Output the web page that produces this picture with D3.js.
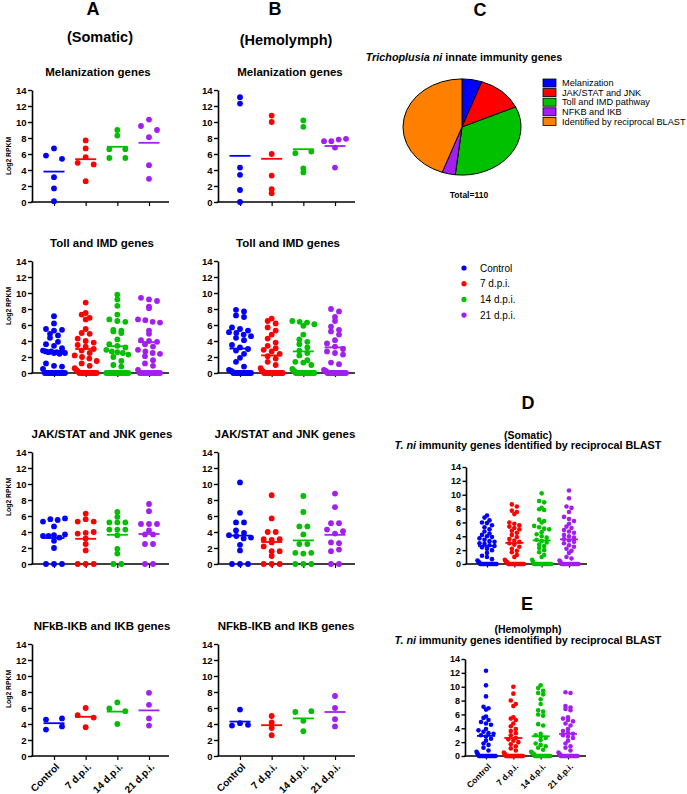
<!DOCTYPE html>
<html><head><meta charset="utf-8">
<script src="https://cdn.jsdelivr.net/npm/d3@7"></script>
<style>body{margin:0;background:#fff;} svg{display:block;font-family:"Liberation Sans",Arial,sans-serif;}</style>
</head><body><svg id="c" width="687" height="794"></svg>
<script>
// ---------- DATA ----------
const groups = ["Control", "7 d.p.i.", "14 d.p.i.", "21 d.p.i."];
const groupColors = ["#0000ff", "#ff0000", "#00c000", "#a21ff0"];
const yTicks = [0, 2, 4, 6, 8, 10, 12, 14];

const melanA = [
  [5.8, 6.7, 5.4, 3.1, 1.7, 0.1],
  [7.7, 6.7, 5.6, 4.9, 4.7, 2.6],
  [9.0, 8.3, 6.6, 6.6, 5.5, 5.5],
  [10.3, 9.5, 9.0, 8.1, 4.6, 2.9]
];
const melanAMeans = [3.8, 5.35, 6.9, 7.4];

const melanB = [
  [13.1, 12.3, 4.3, 3.4, 1.5, 0.0],
  [10.8, 10.0, 6.0, 3.3, 1.6, 1.1],
  [10.2, 9.4, 6.1, 6.3, 3.7, 4.2],
  [7.6, 7.6, 7.8, 7.9, 6.8, 4.3]
];
const melanBMeans = [5.77, 5.4, 6.6, 7.0];

const tollA = [
  [7.1, 6.2, 5.5, 5.3, 5.4, 4.9, 4.7, 4.4, 3.9, 3.6, 3.4, 3.1, 2.8, 2.7, 2.6, 2.7, 2.5, 2.6, 2.4, 2.7, 2.5, 1.2, 0.9, 0.8, 0.5, 0, 0, 0, 0, 0, 0, 0, 0, 0, 0, 0, 0],
  [8.8, 7.5, 7.3, 6.9, 6.7, 5.5, 5.0, 4.9, 4.3, 4.0, 3.8, 3.5, 3.3, 3.0, 2.8, 2.5, 2.2, 2.0, 1.8, 1.5, 1.2, 0.9, 0.6, 0.4, 0.2, 0, 0, 0, 0, 0, 0, 0, 0, 0, 0, 0, 0],
  [9.8, 9.2, 8.4, 7.3, 6.7, 6.5, 6.4, 5.4, 5.3, 5.2, 5.0, 4.2, 3.6, 3.4, 3.2, 2.9, 2.7, 2.6, 2.5, 2.3, 2.0, 1.5, 1.0, 0.8, 0, 0, 0, 0, 0, 0, 0, 0, 0, 0, 0, 0, 0],
  [9.4, 9.2, 9.0, 8.3, 8.1, 6.7, 6.6, 6.4, 6.3, 5.3, 4.9, 4.1, 4.0, 3.9, 3.6, 3.3, 2.9, 2.7, 2.5, 2.4, 2.1, 1.6, 1.2, 0.9, 0.4, 0, 0, 0, 0, 0, 0, 0, 0, 0, 0, 0, 0]
];
const tollAMeans = [2.75, 3.0, 3.35, 3.85];

const tollB = [
  [7.9, 7.7, 7.2, 7.0, 5.7, 5.5, 5.3, 5.1, 5.0, 4.8, 4.6, 4.4, 4.1, 3.5, 3.2, 3.0, 2.8, 2.4, 1.9, 1.4, 0.8, 0.4, 0.3, 0.2, 0, 0, 0, 0, 0, 0, 0, 0, 0, 0, 0, 0, 0],
  [6.8, 6.5, 6.2, 5.7, 5.3, 4.8, 4.3, 3.8, 3.4, 3.1, 2.9, 2.7, 2.4, 2.1, 1.8, 1.4, 1.0, 0.6, 0.3, 0.2, 0, 0, 0, 0, 0, 0, 0, 0, 0, 0, 0, 0, 0, 0, 0, 0, 0],
  [6.5, 6.4, 6.3, 6.1, 5.9, 4.8, 4.2, 3.9, 3.6, 3.2, 2.8, 2.5, 2.2, 1.6, 1.4, 1.3, 1.0, 0.5, 0.3, 0.2, 0, 0, 0, 0, 0, 0, 0, 0, 0, 0, 0, 0, 0, 0, 0, 0, 0],
  [8.0, 7.7, 7.0, 6.5, 5.8, 5.4, 5.2, 4.8, 4.1, 3.7, 3.3, 3.0, 2.7, 2.5, 2.3, 1.3, 1.1, 0.4, 0.3, 0.2, 0, 0, 0, 0, 0, 0, 0, 0, 0, 0, 0, 0, 0, 0, 0, 0, 0]
];
const tollBMeans = [3.05, 2.2, 2.7, 3.2];

const jakA = [
  [5.3, 5.6, 5.5, 5.7, 4.7, 3.5, 3.5, 3.6, 3.3, 3.7, 2.9, 2.0, 0, 0, 0],
  [6.3, 5.3, 5.6, 5.3, 3.8, 3.9, 4.0, 3.2, 2.5, 1.7, 0, 0, 0],
  [6.5, 5.9, 5.2, 5.2, 5.2, 4.3, 4.3, 4.3, 3.6, 1.9, 1.3, 0, 0],
  [7.5, 6.6, 5.0, 5.0, 5.0, 4.2, 3.7, 3.7, 2.5, 2.5, 0, 0]
];
const jakAMeans = [3.25, 3.15, 3.65, 3.75];

const jakB = [
  [10.2, 6.4, 5.2, 5.2, 4.2, 3.9, 3.6, 3.5, 3.2, 3.3, 2.4, 1.7, 0, 0, 0],
  [8.6, 5.7, 4.0, 4.0, 3.1, 3.0, 3.1, 2.7, 2.2, 1.6, 1.6, 1.0, 0, 0, 0],
  [8.5, 6.5, 4.7, 4.7, 3.7, 2.5, 2.5, 1.4, 1.3, 1.4, 0, 0, 0],
  [8.8, 7.1, 5.1, 5.1, 4.3, 3.8, 4.1, 2.7, 2.6, 1.6, 1.8, 0, 0]
];
const jakBMeans = [3.55, 2.75, 2.95, 3.65];

const nfkbA = [
  [4.55, 4.7, 3.3, 3.7],
  [5.1, 6.0, 4.8, 3.6],
  [5.95, 6.7, 5.6, 4.0],
  [7.9, 6.4, 4.7, 3.8]
];
const nfkbAMeans = [4.1, 4.9, 5.55, 5.7];

const nfkbB = [
  [5.8, 3.8, 4.1, 3.9],
  [5.0, 4.2, 3.5, 2.6],
  [5.5, 5.6, 4.4, 3.1],
  [7.5, 6.0, 4.6, 3.7]
];
const nfkbBMeans = [4.3, 3.85, 4.7, 5.5];

const blastSomatic = [
  [7.0, 6.7, 6.3, 6.0, 5.9, 5.6, 5.3, 5.0, 4.7, 4.4, 4.2, 4.0, 3.9, 3.7, 3.5, 3.3, 3.2, 3.0, 2.9, 2.7, 2.6, 2.4, 2.2, 2.0, 1.6, 1.2, 1.0, 0.7, 0.5, 0.3, 0.2, 0, 0, 0, 0, 0, 0, 0, 0, 0, 0, 0, 0, 0, 0, 0, 0, 0, 0],
  [8.6, 8.3, 7.7, 7.5, 7.2, 6.0, 5.8, 5.6, 5.4, 5.2, 5.0, 4.8, 4.5, 4.2, 3.9, 3.6, 3.4, 3.2, 3.0, 2.8, 2.5, 2.2, 1.9, 1.7, 1.3, 1.0, 0.6, 0.4, 0.3, 0.2, 0, 0, 0, 0, 0, 0, 0, 0, 0, 0, 0, 0, 0, 0, 0, 0, 0, 0, 0],
  [10.2, 9.1, 8.9, 8.1, 7.9, 7.8, 6.4, 6.2, 6.0, 5.5, 5.3, 5.1, 5.0, 4.6, 4.3, 4.0, 3.8, 3.5, 3.3, 3.1, 2.8, 2.6, 2.3, 2.0, 1.7, 1.3, 1.0, 0.6, 0.3, 0, 0, 0, 0, 0, 0, 0, 0, 0, 0, 0, 0, 0, 0, 0, 0, 0, 0, 0, 0],
  [10.6, 9.5, 8.3, 8.1, 7.5, 6.8, 6.5, 6.2, 5.8, 5.4, 5.2, 4.9, 4.7, 4.5, 4.2, 4.0, 3.8, 3.6, 3.4, 3.2, 3.0, 2.7, 2.5, 2.2, 1.9, 1.6, 1.0, 0.8, 0.5, 0.3, 0, 0, 0, 0, 0, 0, 0, 0, 0, 0, 0, 0, 0, 0, 0, 0, 0, 0, 0]
];
const blastSomaticMeans = [2.6, 3.05, 3.4, 3.55];

const blastHemo = [
  [12.3, 10.2, 8.6, 7.1, 6.9, 6.7, 5.7, 5.5, 5.2, 4.9, 4.7, 4.5, 3.9, 3.7, 3.5, 3.3, 3.2, 3.0, 2.8, 2.5, 2.2, 1.8, 1.6, 1.2, 0.8, 0.6, 0.4, 0.2, 0, 0, 0, 0, 0, 0, 0, 0, 0, 0, 0, 0, 0, 0, 0, 0, 0, 0, 0, 0, 0],
  [10.0, 9.0, 8.0, 7.5, 7.2, 5.6, 5.4, 5.2, 4.7, 4.3, 3.9, 3.6, 3.3, 3.0, 2.6, 2.4, 2.2, 2.0, 1.7, 1.4, 1.1, 0.8, 0.5, 0.3, 0.2, 0, 0, 0, 0, 0, 0, 0, 0, 0, 0, 0, 0, 0, 0, 0, 0, 0, 0, 0, 0, 0, 0, 0, 0],
  [10.2, 9.8, 9.4, 9.1, 8.9, 8.2, 7.5, 6.6, 6.4, 6.0, 5.8, 4.6, 4.4, 3.2, 3.0, 2.8, 2.6, 2.3, 1.8, 1.6, 1.4, 1.2, 0.9, 0.6, 0.5, 0.4, 0.3, 0.2, 0, 0, 0, 0, 0, 0, 0, 0, 0, 0, 0, 0, 0, 0, 0, 0, 0, 0, 0, 0, 0],
  [9.2, 9.1, 7.2, 7.0, 6.8, 6.6, 5.6, 5.4, 5.2, 5.0, 4.7, 4.4, 3.9, 3.6, 3.4, 3.2, 3.0, 2.8, 2.6, 2.2, 1.8, 1.4, 1.2, 0.8, 0.5, 0.3, 0.2, 0, 0, 0, 0, 0, 0, 0, 0, 0, 0, 0, 0, 0, 0, 0, 0, 0, 0, 0, 0, 0, 0]
];
const blastHemoMeans = [2.9, 2.6, 2.85, 3.2];

const pieLabels = ["Melanization", "JAK/STAT and JNK", "Toll and IMD pathway", "NFKB and IKB", "Identified by reciprocal BLAST"];
const pieCounts = [6, 14, 37, 4, 49];
const pieColors = ["#0000ff", "#ff0000", "#00c000", "#a21ff0", "#ff8000"];

// ---------- LAYOUT ----------
const svg = d3.select("#c");
const FONT = '"Liberation Sans", Arial, sans-serif';

const mainLayout = {h: 112, c0: 22, c1: 117, xEnd: 137, r: 2.9, bin: 0.75, W: 11, pairStep: 16, step: 8, half: 10.5, fs: 9.5, tick: 4};
const smallLayout = {h: 97, c0: 21, c1: 103, xEnd: 121, r: 2.3, bin: 0.62, W: 9.5, pairStep: 10, step: 5, half: 9, fs: 9, tick: 3.5};

const panels = [
  {data: melanA, means: melanAMeans, x0: 32, y0: 202, title: "Melanization genes", tx: 98, ty: 72, ylab: 156},
  {data: melanB, means: melanBMeans, x0: 218, y0: 202, title: "Melanization genes", tx: 290, ty: 72},
  {data: tollA, means: tollAMeans, x0: 32, y0: 373, title: "Toll and IMD genes", tx: 102, ty: 243, ylab: 306},
  {data: tollB, means: tollBMeans, x0: 218, y0: 373, title: "Toll and IMD genes", tx: 288, ty: 243},
  {data: jakA, means: jakAMeans, x0: 32, y0: 564, title: "JAK/STAT and JNK genes", tx: 102, ty: 434, ylab: 497},
  {data: jakB, means: jakBMeans, x0: 218, y0: 564, title: "JAK/STAT and JNK genes", tx: 285, ty: 434},
  {data: nfkbA, means: nfkbAMeans, x0: 32, y0: 756, title: "NFkB-IKB and IKB genes", tx: 102, ty: 626, ylab: 689, xlabels: true},
  {data: nfkbB, means: nfkbBMeans, x0: 218, y0: 756, title: "NFkB-IKB and IKB genes", tx: 286, ty: 626, xlabels: true}
].map(p => Object.assign({}, mainLayout, p));

const smallPanels = [
  {data: blastSomatic, means: blastSomaticMeans, x0: 466, y0: 564, title1: "(Somatic)", t1y: 435, t2y: 445.5, tx: 528},
  {data: blastHemo, means: blastHemoMeans, x0: 465, y0: 756, title1: "(Hemolymph)", t1y: 629, t2y: 640, tx: 528, xlabels: true, xfs: 8.5}
].map(p => Object.assign({}, smallLayout, p));

function swarmOffsets(values, L) {
  const items = values.map((v, i) => ({v, i, bin: Math.floor(v / L.bin + 1e-9)}));
  const bins = d3.group(items, d => d.bin);
  const maxN = d3.max(Array.from(bins.values()), b => b.length);
  const colStep = maxN <= 2 ? L.pairStep : L.step;
  const off = new Array(values.length).fill(0);
  for (const b of bins.values()) {
    const n = b.length;
    if (n < 2) continue;
    const s = Math.min(colStep, 2 * L.W / (n - 1));
    b.forEach((d, k) => { off[d.i] = (k - (n - 1) / 2) * s; });
  }
  return off;
}

function drawAxes(g, p, x, y) {
  const ya = g.append("g").attr("transform", `translate(${p.x0},0)`)
    .call(d3.axisLeft(y).tickValues(yTicks).tickSize(p.tick).tickSizeOuter(0).tickPadding(1.5));
  ya.select(".domain").attr("stroke", "#000").attr("stroke-width", 1.6);
  ya.selectAll(".tick line").attr("stroke", "#000").attr("stroke-width", 1.4);
  ya.selectAll(".tick text").attr("font-size", p.fs).attr("font-weight", "bold").attr("fill", "#000").attr("font-family", FONT);

  const xa = g.append("g").attr("transform", `translate(0,${p.y0})`)
    .call(d3.axisBottom(x).tickSize(p.tick).tickSizeOuter(0));
  xa.select(".domain").remove();
  xa.selectAll(".tick line").attr("stroke", "#000").attr("stroke-width", 1.2);
  if (p.xlabels) {
    xa.selectAll(".tick text").attr("font-size", p.xfs || 10).attr("font-weight", "bold").attr("fill", "#000")
      .attr("font-family", FONT).attr("text-anchor", "end").attr("x", 0).attr("y", 0).attr("dy", "0.35em")
      .attr("transform", "translate(3,9) rotate(-45)");
  } else {
    xa.selectAll(".tick text").remove();
  }
  g.append("line").attr("x1", p.x0 - 0.8).attr("x2", p.x0 + p.xEnd).attr("y1", p.y0).attr("y2", p.y0)
    .attr("stroke", "#000").attr("stroke-width", 1.6);
}

function drawPoints(g, p, x, y) {
  p.data.forEach((vals, gi) => {
    const off = swarmOffsets(vals, p);
    const cx = x(groups[gi]);
    g.append("g").selectAll("circle").data(vals).join("circle")
      .attr("cx", (d, i) => cx + off[i]).attr("cy", d => y(d)).attr("r", p.r)
      .attr("fill", groupColors[gi]);
    g.append("line").attr("x1", cx - p.half).attr("x2", cx + p.half)
      .attr("y1", y(p.means[gi])).attr("y2", y(p.means[gi]))
      .attr("stroke", groupColors[gi]).attr("stroke-width", 1.8);
  });
}

function makeScales(p) {
  const y = d3.scaleLinear().domain([0, 14]).range([p.y0, p.y0 - p.h]);
  const x = d3.scalePoint().domain(groups).range([p.x0 + p.c0, p.x0 + p.c1]);
  return {x, y};
}

panels.forEach(p => {
  const g = svg.append("g");
  const {x, y} = makeScales(p);
  drawAxes(g, p, x, y);
  drawPoints(g, p, x, y);
  g.append("text").attr("x", p.tx).attr("y", p.ty).attr("dy", "0.35em").attr("text-anchor", "middle")
    .attr("font-size", 11.5).attr("font-weight", "bold").attr("font-family", FONT).text(p.title);
  if (p.ylab) {
    g.append("text").attr("transform", `translate(9,${p.ylab}) rotate(-90)`).attr("dy", "0.35em")
      .attr("text-anchor", "middle").attr("font-size", 6.8).attr("font-weight", "bold").attr("font-family", FONT)
      .text("Log2 RPKM");
  }
});

smallPanels.forEach(p => {
  const g = svg.append("g");
  const {x, y} = makeScales(p);
  drawAxes(g, p, x, y);
  drawPoints(g, p, x, y);
  g.append("text").attr("x", p.tx).attr("y", p.t1y).attr("dy", "0.35em").attr("text-anchor", "middle")
    .attr("font-size", 10.5).attr("font-weight", "bold").attr("font-family", FONT).text(p.title1);
  const t2 = g.append("text").attr("x", p.tx).attr("y", p.t2y).attr("dy", "0.35em").attr("text-anchor", "middle")
    .attr("font-size", 10.8).attr("font-weight", "bold").attr("font-family", FONT);
  t2.append("tspan").attr("font-style", "italic").text("T. ni");
  t2.append("tspan").text(" immunity genes identified by reciprocal BLAST");
});

// Panel letters & headers
const letters = [["A", 93, 9], ["B", 275, 9], ["C", 480, 10], ["D", 528, 403], ["E", 527, 604]];
svg.selectAll("text.letter").data(letters).join("text").attr("class", "letter")
  .attr("x", d => d[1]).attr("y", d => d[2]).attr("dy", "0.36em").attr("text-anchor", "middle")
  .attr("font-size", 18).attr("font-weight", "bold").attr("font-family", FONT).text(d => d[0]);
const headers = [["(Somatic)", 100, 37], ["(Hemolymph)", 286, 40]];
svg.selectAll("text.hdr").data(headers).join("text").attr("class", "hdr")
  .attr("x", d => d[1]).attr("y", d => d[2]).attr("dy", "0.35em").attr("text-anchor", "middle")
  .attr("font-size", 14.5).attr("font-weight", "bold").attr("font-family", FONT).text(d => d[0]);

// Pie chart (C)
const pt = svg.append("text").attr("x", 464).attr("y", 57).attr("dy", "0.35em").attr("text-anchor", "middle")
  .attr("font-size", 10.8).attr("font-weight", "bold").attr("font-family", FONT);
pt.append("tspan").attr("font-style", "italic").text("Trichoplusia ni");
pt.append("tspan").text(" innate immunity genes");

const pieG = svg.append("g").attr("transform", "translate(462,127) scale(1,0.815)");
const arcs = d3.pie().sort(null).value(d => d)(pieCounts);
pieG.selectAll("path").data(arcs).join("path")
  .attr("d", d3.arc().innerRadius(0).outerRadius(59))
  .attr("fill", (d, i) => pieColors[i]).attr("stroke", "#000").attr("stroke-width", 1)
  .attr("vector-effect", "non-scaling-stroke");

svg.append("text").attr("x", 469).attr("y", 195).attr("dy", "0.35em").attr("text-anchor", "middle")
  .attr("font-size", 8.5).attr("font-weight", "bold").attr("font-family", FONT)
  .text("Total=" + d3.sum(pieCounts));

const pl = svg.append("g").selectAll("g").data(pieLabels).join("g")
  .attr("transform", (d, i) => `translate(543,${83 + i * 9.6})`);
pl.append("rect").attr("x", 0).attr("y", -4).attr("width", 13).attr("height", 8)
  .attr("fill", (d, i) => pieColors[i]).attr("stroke", "#000").attr("stroke-width", 0.8);
pl.append("text").attr("x", 19).attr("y", 0).attr("dy", "0.35em").attr("font-size", 9.2)
  .attr("font-family", FONT).text(d => d);

// Point legend
const gl = svg.append("g").selectAll("g").data(groups).join("g")
  .attr("transform", (d, i) => `translate(464,${268 + i * 15.7})`);
gl.append("circle").attr("r", 2.6).attr("fill", (d, i) => groupColors[i]);
gl.append("text").attr("x", 16).attr("dy", "0.35em").attr("font-size", 10).attr("font-family", FONT).text(d => d);
</script>
</body></html>
